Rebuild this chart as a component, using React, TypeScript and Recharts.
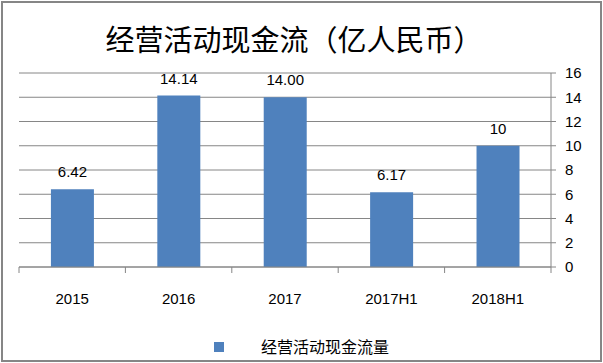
import { FC } from 'react'
import { Bar, BarChart, CartesianGrid, LabelList, XAxis, YAxis } from 'recharts'

const categories = ['2015', '2016', '2017', '2017H1', '2018H1']
const values = [6.42, 14.14, 14.0, 6.17, 10]
const valueLabels = ['6.42', '14.14', '14.00', '6.17', '10']
const yTicks = [0, 2, 4, 6, 8, 10, 12, 14, 16]

const title = '经营活动现金流（亿人民币）'
const seriesName = '经营活动现金流量'

const data = categories.map((name, i) => ({
  name,
  value: values[i],
  label: valueLabels[i],
}))

const W = 603
const H = 363
const M = { top: 73, right: 12, left: 19, bottom: 0 }
const Y_AXIS_W = 40
const band = (W - M.left - M.right - Y_AXIS_W) / categories.length
const GRAY = '#868686'
const BLUE = '#4F81BD'
const NUM_FONT = '"Liberation Sans", Arial, sans-serif'
const CJK_FONT = '"Noto Sans CJK SC", sans-serif'

type TickProps = {
  x: number
  y: number
  index: number
  payload: { value: string }
}

// excel style: tick marks sit between categories, not under them
const CatTick: FC<TickProps> = ({ x, y, index, payload }) => {
  const axisY = y - 8
  const left = x - band / 2
  const right = x + band / 2
  return (
    <g>
      <line x1={left} y1={axisY} x2={left} y2={axisY + 6} stroke={GRAY} />
      {index === categories.length - 1 && (
        <line x1={right} y1={axisY} x2={right} y2={axisY + 6} stroke={GRAY} />
      )}
      <text
        x={x}
        y={axisY + 37}
        textAnchor="middle"
        fill="#000"
        fontSize={15}
        fontFamily={NUM_FONT}
      >
        {payload.value}
      </text>
    </g>
  )
}

const App: FC = () => {
  return (
    <div
      style={{
        position: 'absolute',
        left: 0,
        top: 0,
        width: W,
        height: H,
        background: '#fff',
      }}
    >
      <BarChart
        width={W}
        height={H}
        data={data}
        margin={M}
        barCategoryGap="30%"
      >
        <CartesianGrid vertical={false} stroke={GRAY} />
        <XAxis
          dataKey="name"
          height={96}
          interval={0}
          axisLine={{ stroke: GRAY }}
          tickLine={false}
          tick={(props: any) => <CatTick {...props} />}
        />
        <YAxis
          orientation="right"
          width={Y_AXIS_W}
          domain={[0, 16]}
          ticks={yTicks}
          interval={0}
          axisLine={{ stroke: GRAY }}
          tickLine={{ stroke: GRAY }}
          tickSize={5}
          tickMargin={9}
          tick={{ fill: '#000', fontSize: 15, fontFamily: NUM_FONT }}
        />
        <Bar dataKey="value" fill={BLUE} isAnimationActive={false}>
          <LabelList
            dataKey="label"
            position="top"
            offset={12}
            fill="#000"
            fontSize={15}
            fontFamily={NUM_FONT}
          />
        </Bar>
      </BarChart>

      <div
        style={{
          position: 'absolute',
          left: 0,
          top: 24,
          width: 588,
          textAlign: 'center',
          fontFamily: CJK_FONT,
          fontSize: 29,
          lineHeight: '29px',
          color: '#000',
          whiteSpace: 'nowrap',
        }}
      >
        {title}
      </div>

      <div
        style={{
          position: 'absolute',
          left: 214,
          top: 342,
          width: 10,
          height: 10,
          background: BLUE,
        }}
      />
      <div
        style={{
          position: 'absolute',
          left: 261,
          top: 338,
          fontFamily: CJK_FONT,
          fontSize: 16,
          lineHeight: '16px',
          color: '#000',
          whiteSpace: 'nowrap',
        }}
      >
        {seriesName}
      </div>

      <div
        style={{
          position: 'absolute',
          left: 1,
          top: 1,
          width: 601,
          height: 361,
          boxSizing: 'border-box',
          border: `2px solid ${GRAY}`,
          pointerEvents: 'none',
        }}
      />
    </div>
  )
}

export default App
